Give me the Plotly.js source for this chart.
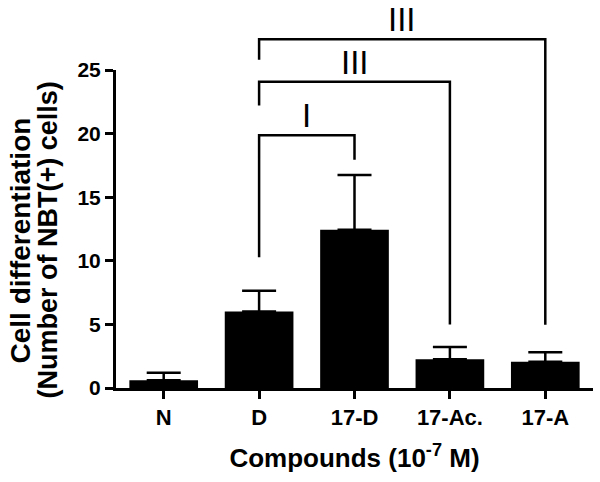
<!DOCTYPE html>
<html>
<head>
<meta charset="utf-8">
<script src="https://cdn.plot.ly/plotly-3.0.1.min.js"></script>
<style>html,body{margin:0;padding:0;background:#fff;}#chart{width:600px;height:482px;}</style>
</head>
<body>
<div id="chart"></div>
<script>
// ---- data ----
const categories = ["N", "D", "17-D", "17-Ac.", "17-A"];
const meanValues = [0.6, 6.02, 12.44, 2.26, 2.07];
const sdValues   = [0.6, 1.63, 4.3, 0.97, 0.74];

// significance brackets: from category, to category, bar height, left drop end, right drop end, label
const bracketFrom   = ["D", "D", "D"];
const bracketTo     = ["17-D", "17-Ac.", "17-A"];
const bracketHeight = [19.87, 24.08, 27.42];
const bracketLeftEnd  = [10.28, 22.2, 25.8];
const bracketRightEnd = [17.95, 5.0, 4.97];
const bracketLabel  = ["I", "III", "III"];

const yTickVals = [0, 5, 10, 15, 20, 25];

// ---- layout geometry ----
const W = 600, H = 482;
const margin = {l: 116, r: 7, t: 10, b: 94};
const plotH = H - margin.t - margin.b;
const mainTopPx = 70;                       // pixel where y=25 sits
const domTop = (H - margin.b - mainTopPx) / plotH;
const yMax = 25;
const y2Max = yMax / domTop;               // same scale, full-height axis for brackets

const FONT = "Liberation Sans, Arial, Helvetica, sans-serif";

const traces = [];
traces.push({
  type: "bar",
  x: categories,
  y: meanValues,
  width: 0.72,
  marker: {color: "#000000", line: {width: 0}},
  error_y: {
    type: "data", symmetric: false,
    array: sdValues,
    arrayminus: sdValues.map(() => 0),
    color: "#000000", thickness: 2.5, width: 17
  },
  xaxis: "x", yaxis: "y",
  hoverinfo: "skip", showlegend: false
});

const annotations = [];
for (let i = 0; i < bracketFrom.length; i++) {
  traces.push({
    type: "scatter", mode: "lines",
    x: [bracketFrom[i], bracketFrom[i], bracketTo[i], bracketTo[i]],
    y: [bracketLeftEnd[i], bracketHeight[i], bracketHeight[i], bracketRightEnd[i]],
    line: {color: "#000000", width: 2.5},
    xaxis: "x", yaxis: "y2",
    cliponaxis: false, hoverinfo: "skip", showlegend: false
  });
  const mid = (categories.indexOf(bracketFrom[i]) + categories.indexOf(bracketTo[i])) / 2;
  annotations.push({
    xref: "x", yref: "y2", x: mid, y: bracketHeight[i],
    xanchor: "center", yanchor: "bottom", yshift: -1,
    text: bracketLabel[i], showarrow: false,
    font: {family: FONT, size: 33, color: "#000000"}
  });
}

// y-axis title as two lines (tight leading as in the reference)
annotations.push({
  xref: "paper", yref: "y", x: -(margin.l - 20) / (W - margin.l - margin.r), y: 11.6,
  xanchor: "center", yanchor: "middle", textangle: -90,
  text: "Cell differentiation", showarrow: false,
  font: {family: FONT, size: 28, color: "#000000", weight: "bold"}
});
annotations.push({
  xref: "paper", yref: "y", x: -(margin.l - 48) / (W - margin.l - margin.r), y: 11.6,
  xanchor: "center", yanchor: "middle", textangle: -90,
  text: "(Number of NBT(+) cells)", showarrow: false,
  font: {family: FONT, size: 27, color: "#000000", weight: "bold"}
});

const layout = {
  width: W, height: H,
  margin: margin,
  paper_bgcolor: "#ffffff", plot_bgcolor: "rgba(0,0,0,0)",
  showlegend: false,
  font: {family: FONT, color: "#000000"},
  xaxis: {
    type: "category", range: [-0.5, 4.5],
    anchor: "y",
    showline: true, linecolor: "#000000", linewidth: 3,
    ticks: "outside", ticklen: 8, tickwidth: 3, tickcolor: "#000000",
    showgrid: false, zeroline: false,
    tickfont: {family: FONT, size: 22, color: "#000000", weight: "bold"},
    title: {
      text: "Compounds (10<sup>-7</sup> M)",
      font: {family: FONT, size: 26, color: "#000000", weight: "bold"},
      standoff: 20
    },
    fixedrange: true
  },
  yaxis: {
    domain: [0, domTop], range: [0, yMax],
    anchor: "x",
    tickvals: yTickVals,
    showline: true, linecolor: "#000000", linewidth: 3,
    ticks: "outside", ticklen: 8, tickwidth: 3, tickcolor: "#000000",
    showgrid: false, zeroline: false,
    tickfont: {family: FONT, size: 21, color: "#000000", weight: "bold"},
    fixedrange: true
  },
  yaxis2: {
    domain: [0, 1], range: [0, y2Max],
    anchor: "x", visible: false, fixedrange: true
  },
  annotations: annotations
};

Plotly.newPlot("chart", traces, layout, {displayModeBar: false, staticPlot: true});
</script>
</body>
</html>
